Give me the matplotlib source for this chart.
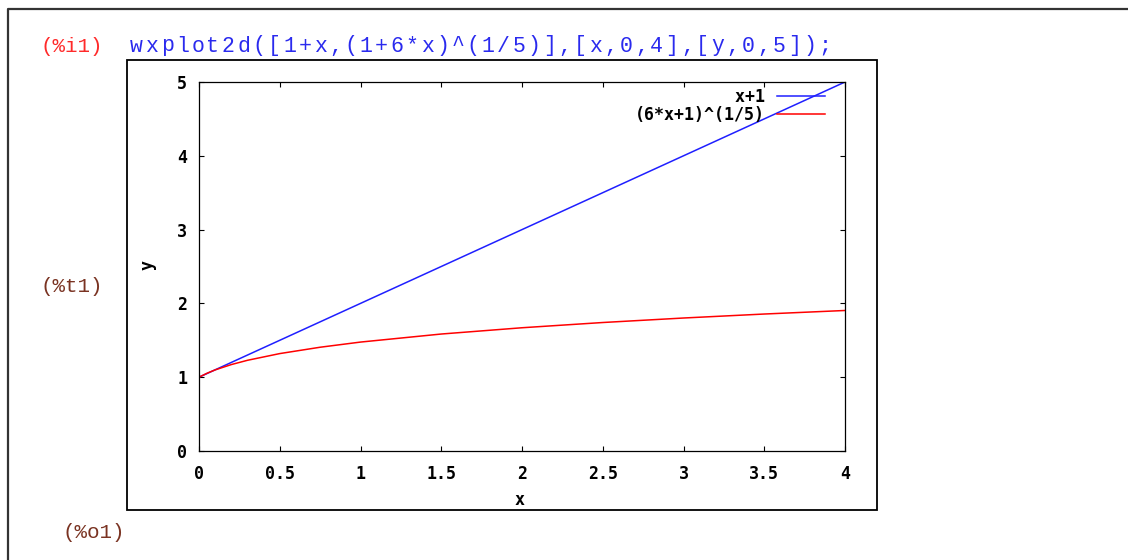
import matplotlib
matplotlib.use("Agg")
import matplotlib.pyplot as plt
from matplotlib.lines import Line2D
from matplotlib.patches import Rectangle

# ---------------------------------------------------------------
# Datos
# ---------------------------------------------------------------
x_lin = [0, 4]
y_lin = [1, 5]

x_raiz = [0, 0.05, 0.1, 0.2, 0.3, 0.5, 0.75, 1, 1.5, 2, 2.5, 3, 3.5, 4]
y_raiz = [1.0, 1.054, 1.099, 1.171, 1.229, 1.320, 1.406, 1.476,
          1.585, 1.670, 1.741, 1.802, 1.856, 1.904]

x_ticks = [0, 0.5, 1, 1.5, 2, 2.5, 3, 3.5, 4]
x_tick_labels = ['0', '0.5', '1', '1.5', '2', '2.5', '3', '3.5', '4']
y_ticks = [0, 1, 2, 3, 4, 5]

etiquetas = ['x+1', '(6*x+1)^(1/5)']
entrada = 'wxplot2d([1+x,(1+6*x)^(1/5)],[x,0,4],[y,0,5]);'

W, H = 1128, 560
MONO = 'Liberation Mono'
BOLD = dict(family='DejaVu Sans Mono', weight='bold', size=12)


def fx(px):
    return px / W


def fy(py):
    return 1 - py / H


fig = plt.figure(figsize=(W / 100, H / 100), dpi=100)

# marco de la celda (arriba e izquierda)
fig.add_artist(Line2D([fx(8), fx(8), fx(W)], [fy(H), fy(9), fy(9)],
                      color='#333333', lw=1.6))

# marco de la imagen
fig.add_artist(Rectangle((fx(127), fy(510)), fx(877) - fx(127), fy(60) - fy(510),
                         fill=False, edgecolor='black', lw=1.3))

# etiquetas de maxima
fig.text(fx(40), fy(46), '(%i1)', color='#ff2a2a', family=MONO,
         size=15, va='center', ha='left')
for i, ch in enumerate(entrada):
    fig.text(fx(130 + 15.3 * i), fy(46), ch, color='#2a2aee', family=MONO,
             size=15.5, va='center', ha='left')
fig.text(fx(40), fy(287), '(%t1)', color='#7a3322', family=MONO,
         size=15, va='center', ha='left')
fig.text(fx(62), fy(532), '(%o1)', color='#7a3322', family=MONO,
         size=15, va='center', ha='left')

# ---------------------------------------------------------------
# Grafica
# ---------------------------------------------------------------
ax = fig.add_axes([fx(199), fy(451), fx(845) - fx(199), fy(82) - fy(451)])
l1, = ax.plot(x_lin, y_lin, color='#1f1fff', lw=1.1)
l2, = ax.plot(x_raiz, y_raiz, color='#ff0000', lw=1.1)

ax.set_xlim(0, 4)
ax.set_ylim(0, 5)
ax.set_xticks(x_ticks)
ax.set_xticklabels(x_tick_labels)
ax.set_yticks(y_ticks)
ax.tick_params(direction='in', top=True, right=True, length=3.6,
               width=0.8, color='black')
ax.tick_params(axis='x', pad=10)
ax.tick_params(axis='y', pad=8.5)
for lab in ax.get_xticklabels() + ax.get_yticklabels():
    lab.set_fontproperties(BOLD)
for s in ax.spines.values():
    s.set_linewidth(0.9)

ax.set_xlabel('x', fontdict=BOLD, va='center', ha='center')
ax.xaxis.set_label_coords((520 - 199) / 646, -(500 - 451) / 369)
ax.set_ylabel('y', fontdict=BOLD, va='center', ha='center')
ax.yaxis.set_label_coords(-(199 - 148) / 646, (451 - 265) / 369)

# leyenda: texto alineado a la derecha con espacios (fuente monoespaciada)
ancho = max(len(e) for e in etiquetas)
leg = ax.legend([l1, l2], [e.rjust(ancho) for e in etiquetas],
                loc='upper right', markerfirst=False, frameon=False,
                prop=BOLD, handlelength=2.9, handletextpad=0.7,
                labelspacing=0.0, borderpad=0, borderaxespad=0,
                bbox_to_anchor=(1 - 20 / 646, 1 - 6 / 369))

fig.savefig('out.png', dpi=100, facecolor='white')
